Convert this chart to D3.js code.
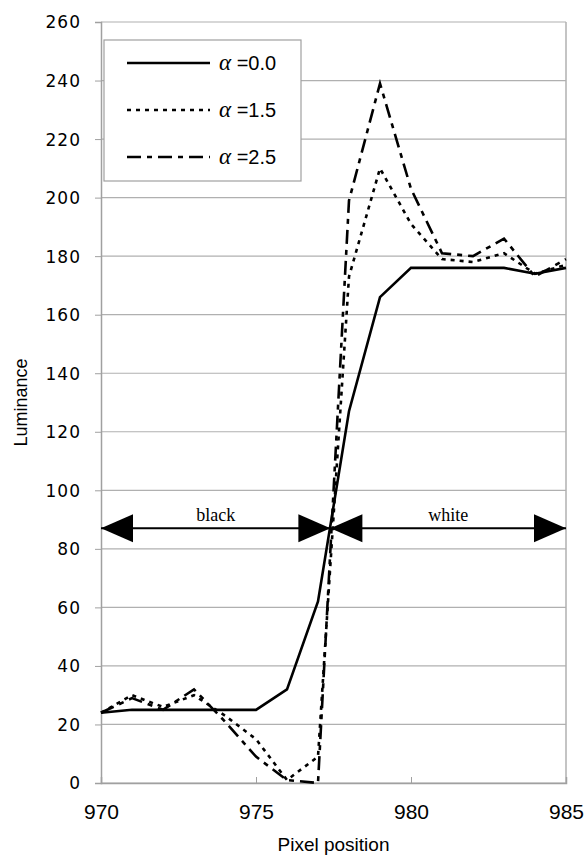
<!DOCTYPE html>
<html>
<head>
<meta charset="utf-8">
<script src="https://cdn.jsdelivr.net/npm/d3@7"></script>
<style>
  body { margin: 0; background: #fff; }
  svg text { fill: #000; }
</style>
</head>
<body>
<div id="chart-area"></div>
<script>
// pixel positions along the scan line
var pixels = [970, 971, 972, 973, 974, 975, 976, 977, 978, 979, 980, 981, 982, 983, 984, 985];

// luminance for each alpha
var alpha00 = [24, 25, 25, 25, 25, 25, 32, 62, 127, 166, 176, 176, 176, 176, 174, 176];
var alpha15 = [24, 30, 26, 30, 23, 15, 1, 9, 173, 210, 191, 179, 178, 181, 174, 177];
var alpha25 = [24, 29, 25, 32, 21, 9, 1, 0, 199, 239, 203, 181, 180, 186, 173, 179];

var seriesNames = ["\u03b1 =0.0", "\u03b1 =1.5", "\u03b1 =2.5"];
var seriesDash = ["none", "4,5", "14,6,5,6"];

var xTicks = [970, 975, 980, 985];
var yTicks = [0, 20, 40, 60, 80, 100, 120, 140, 160, 180, 200, 220, 240, 260];

// black / white region arrows
var arrowLevel = 87;
var arrowSplit = 977.4;
var regionLabels = ["black", "white"];

var margin = {top: 22, right: 21, bottom: 74, left: 101};
var width = 587 - margin.left - margin.right;
var height = 857 - margin.top - margin.bottom;

var svg = d3.select("#chart-area").append("svg")
    .attr("width", 587)
    .attr("height", 857);

var g = svg.append("g")
    .attr("transform", "translate(" + margin.left + "," + margin.top + ")");

var x = d3.scaleLinear().domain([970, 985]).range([0, width]);
var y = d3.scaleLinear().domain([0, 260]).range([height, 0]);

// grid lines
g.selectAll(".grid")
    .data(yTicks)
    .enter().append("line")
    .attr("x1", 0).attr("x2", width)
    .attr("y1", function(d) { return y(d); })
    .attr("y2", function(d) { return y(d); })
    .attr("stroke", "#b0b0b0")
    .attr("stroke-width", 1.2);

// right border
g.append("line")
    .attr("x1", width).attr("x2", width)
    .attr("y1", 0).attr("y2", height)
    .attr("stroke", "#b0b0b0")
    .attr("stroke-width", 1.5);

// y axis
var yAxis = g.append("g")
    .call(d3.axisLeft(y).tickValues(yTicks).tickSize(6).tickPadding(14).tickFormat(d3.format("d")));
yAxis.select(".domain").attr("stroke", "#a0a0a0").attr("stroke-width", 1.5);
yAxis.selectAll(".tick line").attr("stroke", "#a0a0a0");
yAxis.selectAll("text")
    .attr("font-family", "DejaVu Sans, sans-serif")
    .attr("font-size", "17px")
    .attr("letter-spacing", "1px")
    .attr("dy", "0.35em");

// x axis
var xAxis = g.append("g")
    .attr("transform", "translate(0," + height + ")")
    .call(d3.axisBottom(x).tickValues(xTicks).tickSize(-6).tickPadding(21).tickFormat(d3.format("d")));
xAxis.select(".domain").attr("stroke", "#a0a0a0").attr("stroke-width", 1.5);
xAxis.selectAll(".tick line").attr("stroke", "#a0a0a0");
xAxis.selectAll("text")
    .attr("font-family", "Liberation Sans, Arial, sans-serif")
    .attr("font-size", "21px");

// axis titles
svg.append("text")
    .attr("x", margin.left + width / 2)
    .attr("y", 851)
    .attr("text-anchor", "middle")
    .attr("font-family", "Liberation Sans, Arial, sans-serif")
    .attr("font-size", "19px")
    .text("Pixel position");

svg.append("text")
    .attr("transform", "translate(27," + (margin.top + height / 2) + ") rotate(-90)")
    .attr("text-anchor", "middle")
    .attr("font-family", "Liberation Sans Narrow, Liberation Sans, Arial, sans-serif")
    .attr("font-size", "18px")
    .text("Luminance");

// lines
var series = [alpha00, alpha15, alpha25];
var line = d3.line()
    .x(function(d, i) { return x(pixels[i]); })
    .y(function(d) { return y(d); });

g.selectAll(".series")
    .data(series)
    .enter().append("path")
    .attr("d", line)
    .attr("fill", "none")
    .attr("stroke", "#000")
    .attr("stroke-width", 2.6)
    .attr("stroke-dasharray", function(d, i) { return seriesDash[i]; });

// arrows
var arrowLen = 32, arrowHalf = 14;
var ay = y(arrowLevel);
g.append("line")
    .attr("x1", x(970)).attr("x2", x(985))
    .attr("y1", ay).attr("y2", ay)
    .attr("stroke", "#000")
    .attr("stroke-width", 2);

var heads = [
    {tip: x(970), dir: -1},
    {tip: x(arrowSplit), dir: 1},
    {tip: x(arrowSplit), dir: -1},
    {tip: x(985), dir: 1}
];
g.selectAll(".head")
    .data(heads)
    .enter().append("path")
    .attr("d", function(d) {
        var b = d.tip - d.dir * arrowLen;
        return "M" + d.tip + "," + ay + "L" + b + "," + (ay - arrowHalf) + "L" + b + "," + (ay + arrowHalf) + "Z";
    })
    .attr("fill", "#000");

g.selectAll(".region")
    .data(regionLabels)
    .enter().append("text")
    .attr("x", function(d, i) { return i === 0 ? (x(970) + x(arrowSplit)) / 2 : (x(arrowSplit) + x(985)) / 2; })
    .attr("y", ay - 7)
    .attr("text-anchor", "middle")
    .attr("font-family", "Liberation Serif, Times New Roman, serif")
    .attr("font-size", "18px")
    .text(function(d) { return d; });

// legend
var legend = g.append("g").attr("transform", "translate(3,18)");
legend.append("rect")
    .attr("width", 197).attr("height", 141)
    .attr("fill", "#fff")
    .attr("stroke", "#a0a0a0")
    .attr("stroke-width", 1.2);

var items = legend.selectAll(".item")
    .data(seriesNames)
    .enter().append("g")
    .attr("transform", function(d, i) { return "translate(0," + (23 + i * 47) + ")"; });

items.append("line")
    .attr("x1", 23).attr("x2", 106)
    .attr("stroke", "#000")
    .attr("stroke-width", 2.6)
    .attr("stroke-dasharray", function(d, i) { return seriesDash[i]; });

items.append("text")
    .attr("x", 115)
    .attr("dy", "0.35em")
    .attr("font-family", "Liberation Sans, Arial, sans-serif")
    .attr("font-size", "20px")
    .each(function(d) {
        var t = d3.select(this);
        t.append("tspan").attr("font-style", "italic").attr("font-family", "Liberation Serif, serif").attr("font-size", "23px").text(d.charAt(0));
        t.append("tspan").text(d.slice(1));
    });
</script>
</body>
</html>
